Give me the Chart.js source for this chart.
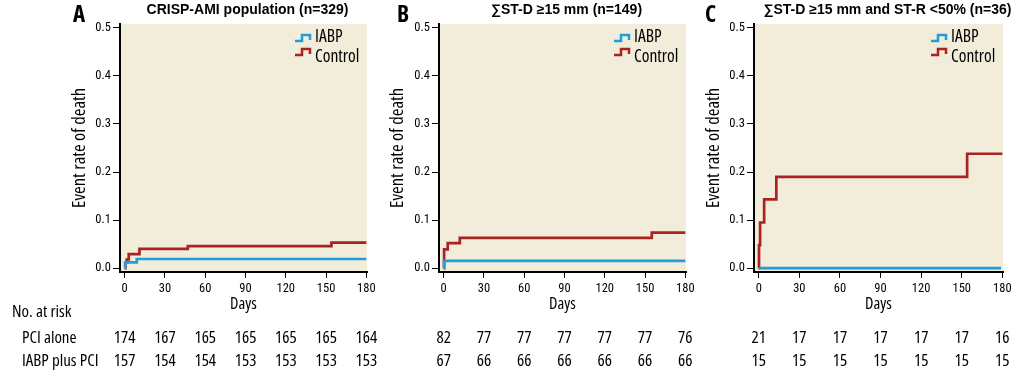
<!DOCTYPE html>
<html><head><meta charset="utf-8">
<script src="https://cdn.jsdelivr.net/npm/chart.js@4.4.1/dist/chart.umd.min.js"></script>
<style>
html,body{margin:0;padding:0;background:#fff;}
#wrap{position:relative;width:1033px;height:384px;overflow:hidden;background:#fff;}
canvas{position:absolute;top:0;}
</style></head><body>
<div id="wrap">
<canvas id="cA" width="380" height="384" style="left:0px"></canvas>
<canvas id="cB" width="320" height="384" style="left:380px"></canvas>
<canvas id="cC" width="333" height="384" style="left:700px"></canvas>
</div>
<script>
// ---------- data ----------
const days = [0, 30, 60, 90, 120, 150, 180];
const yTickValues = [0, 0.1, 0.2, 0.3, 0.4, 0.5];
const seriesNames = ['IABP', 'Control'];
const rowLabels = ['No. at risk', 'PCI alone', 'IABP plus PCI'];
const panelLetters = ['A', 'B', 'C'];
const panelTitles = ['CRISP-AMI population (n=329)', '∑ST-D ≥15 mm (n=149)', '∑ST-D ≥15 mm and ST-R <50% (n=36)'];

// Panel A curves (day, cumulative event rate)
const aIabpDays = [0, 0.3, 9, 180];
const aIabpRate = [0, 0.012, 0.019, 0.019];
const aControlDays = [0, 0.5, 1.5, 3, 11, 47, 154, 180];
const aControlRate = [0, 0.012, 0.018, 0.029, 0.040, 0.046, 0.053, 0.053];
// Panel B curves
const bIabpDays = [0, 0.3, 180];
const bIabpRate = [0, 0.015, 0.015];
const bControlDays = [0, 0.3, 3, 12, 155, 180];
const bControlRate = [0, 0.039, 0.052, 0.063, 0.074, 0.074];
// Panel C curves
const cIabpDays = [0, 179];
const cIabpRate = [0, 0];
const cControlDays = [0, 0.2, 1, 4, 13, 154, 180];
const cControlRate = [0, 0.048, 0.095, 0.143, 0.190, 0.238, 0.238];

// Numbers at risk
const aPciAlone = [174, 167, 165, 165, 165, 165, 164];
const aIabpPci  = [157, 154, 154, 153, 153, 153, 153];
const bPciAlone = [82, 77, 77, 77, 77, 77, 76];
const bIabpPci  = [67, 66, 66, 66, 66, 66, 66];
const cPciAlone = [21, 17, 17, 17, 17, 17, 16];
const cIabpPci  = [15, 15, 15, 15, 15, 15, 15];

// ---------- style ----------
const COND = "'Open Sans','Roboto Condensed',sans-serif";
const TICKF = "'Roboto Condensed','Open Sans',sans-serif";
const SANS = "'Liberation Sans',Arial,sans-serif";
const BLUE = '#1f9edb';
const RED = '#a82321';
const BEIGE = '#f2eddb';

function pts(xs, ys) { return xs.map((x, i) => ({ x: x, y: ys[i] })); }

const panels = [
  { id: 'cA', left: 0,   padL: 67, yW: 53, padR: 13, titleDx: 4, letterX: 73,
    iabp: pts(aIabpDays, aIabpRate), ctrl: pts(aControlDays, aControlRate),
    risk1: aPciAlone, risk2: aIabpPci, rowLabels: true },
  { id: 'cB', left: 380, padL: 5, yW: 54, padR: 14, titleDx: 4, letterX: 397,
    iabp: pts(bIabpDays, bIabpRate), ctrl: pts(bControlDays, bControlRate),
    risk1: bPciAlone, risk2: bIabpPci, rowLabels: false },
  { id: 'cC', left: 700, padL: 1, yW: 53, padR: 30, titleDx: 9, letterX: 705,
    iabp: pts(cIabpDays, cIabpRate), ctrl: pts(cControlDays, cControlRate),
    risk1: cPciAlone, risk2: cIabpPci, rowLabels: false }
];

const ROW_Y = [312, 338, 361];

const decoPlugin = {
  id: 'deco',
  beforeDraw(chart) {
    const { ctx, chartArea: ca } = chart;
    ctx.save();
    ctx.fillStyle = BEIGE;
    ctx.fillRect(ca.left, ca.top, ca.right - ca.left, ca.bottom - ca.top);
    ctx.restore();
  },
  afterDraw(chart, args, opts) {
    const { ctx, chartArea: ca } = chart;
    const p = opts.panel;
    ctx.save();
    ctx.fillStyle = '#000';
    // panel letter
    ctx.font = 'bold condensed 23px ' + COND;
    ctx.textAlign = 'left';
    ctx.textBaseline = 'middle';
    ctx.fillText(panelLetters[opts.index], p.letterX - p.left, 15);
    // title
    ctx.font = 'bold 14px ' + SANS;
    ctx.textAlign = 'center';
    ctx.fillText(panelTitles[opts.index], (ca.left + ca.right) / 2 + p.titleDx, 10);
    // legend
    const tx = ca.right - 52;
    const items = [
      { label: chart.data.datasets[0].label, color: chart.data.datasets[0].borderColor, gTop: ca.top + 11, tY: ca.top + 13 },
      { label: chart.data.datasets[1].label, color: chart.data.datasets[1].borderColor, gTop: ca.top + 25, tY: ca.top + 33 }
    ];
    items.forEach(it => {
      ctx.strokeStyle = it.color;
      ctx.lineWidth = 2.5;
      ctx.beginPath();
      const g0 = tx - 20;
      ctx.moveTo(g0, it.gTop + 6);
      ctx.lineTo(g0 + 7, it.gTop + 6);
      ctx.lineTo(g0 + 7, it.gTop);
      ctx.lineTo(g0 + 15, it.gTop);
      ctx.lineTo(g0 + 15, it.gTop + 5);
      ctx.stroke();
      ctx.fillStyle = '#000';
      ctx.font = 'condensed 17.5px ' + COND;
      ctx.textAlign = 'left';
      ctx.textBaseline = 'middle';
      ctx.fillText(it.label, tx, it.tY);
    });
    // numbers at risk
    const xs = chart.scales.x;
    ctx.font = 'condensed 17px ' + COND;
    ctx.textAlign = 'center';
    ctx.textBaseline = 'middle';
    days.forEach((d, i) => {
      const px = xs.getPixelForValue(d);
      ctx.fillText(String(p.risk1[i]), px, ROW_Y[1]);
      ctx.fillText(String(p.risk2[i]), px, ROW_Y[2]);
    });
    if (p.rowLabels) {
      ctx.textAlign = 'left';
      ctx.fillText(rowLabels[0], 12, ROW_Y[0]);
      ctx.fillText(rowLabels[1], 22, ROW_Y[1]);
      ctx.fillText(rowLabels[2], 22, ROW_Y[2]);
    }
    ctx.restore();
  }
};

panels.forEach((p, idx) => {
  new Chart(document.getElementById(p.id), {
    type: 'line',
    data: {
      datasets: [
        { label: seriesNames[0], data: p.iabp, borderColor: BLUE, backgroundColor: BLUE,
          borderWidth: 2.7, pointRadius: 0, stepped: true, fill: false },
        { label: seriesNames[1], data: p.ctrl, borderColor: RED, backgroundColor: RED,
          borderWidth: 2.7, pointRadius: 0, stepped: true, fill: false }
      ]
    },
    options: {
      responsive: false,
      animation: false,
      devicePixelRatio: 1,
      layout: { padding: { left: p.padL, right: p.padR, top: 24, bottom: 70 } },
      plugins: {
        legend: { display: false },
        tooltip: { enabled: false },
        title: { display: false },
        deco: { panel: p, index: idx }
      },
      scales: {
        x: {
          type: 'linear', min: -3.5, max: 180.5,
          afterBuildTicks: s => { s.ticks = days.map(v => ({ value: v })); },
          afterFit: s => { s.height = 42; },
          ticks: { font: { family: TICKF, size: 12.5 }, color: '#000', padding: 3, maxRotation: 0, autoSkip: false },
          grid: { display: true, drawOnChartArea: false, drawTicks: true, tickLength: 6, color: '#000', lineWidth: 1 },
          border: { display: true, color: '#000', width: 2 },
          title: { display: true, text: 'Days', font: { family: COND, size: 16.5, weight: 'condensed' }, color: '#000', padding: 0 }
        },
        y: {
          type: 'linear', min: -0.008, max: 0.508,
          afterBuildTicks: s => { s.ticks = yTickValues.map(v => ({ value: v })); },
          afterFit: s => { s.width = p.yW; },
          ticks: { callback: v => Number(v).toFixed(1), font: { family: TICKF, size: 12.5 }, color: '#000', padding: 2 },
          grid: { display: true, drawOnChartArea: false, drawTicks: true, tickLength: 7, color: '#000', lineWidth: 1 },
          border: { display: true, color: '#000', width: 2 },
          title: { display: true, text: 'Event rate of death', font: { family: COND, size: 18.5, weight: 'condensed' }, color: '#000', padding: { top: 2, bottom: 0 } }
        }
      }
    },
    plugins: [decoPlugin]
  });
});
</script>
</body></html>
